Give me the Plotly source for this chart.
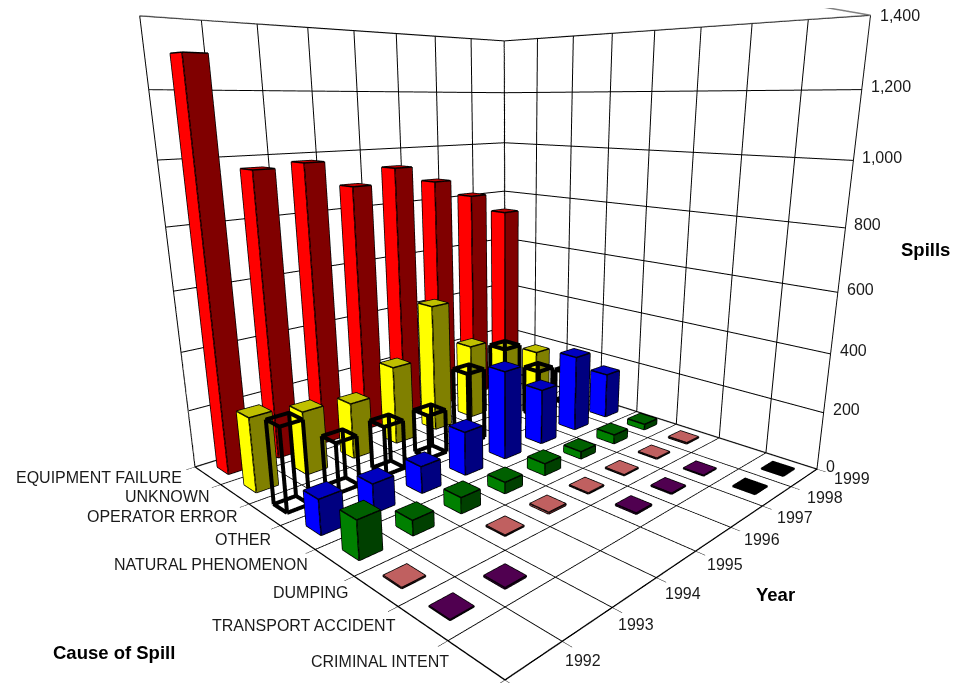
import plotly.graph_objects as go

years = [1992, 1993, 1994, 1995, 1996, 1997, 1998, 1999]
causes = ["CRIMINAL INTENT", "TRANSPORT ACCIDENT", "DUMPING", "NATURAL PHENOMENON",
          "OTHER", "OPERATOR ERROR", "UNKNOWN", "EQUIPMENT FAILURE"]

criminal_intent = [0, 0, 0, 0, 0, 0, 2, 2]
transport_accident = [2, 4, 0, 0, 4, 3, 2, 0]
dumping = [3, 0, 3, 5, 3, 3, 3, 4]
natural_phenomenon = [120, 48, 52, 38, 41, 26, 33, 21]
other = [112, 95, 90, 150, 312, 200, 280, 170]
operator_error = [275, 168, 168, 155, 260, 310, 182, 130]
unknown = [250, 218, 197, 282, 468, 280, 225, 178]
equipment_failure = [1300, 965, 977, 888, 940, 880, 813, 733]
spill_ticks = [0, 200, 400, 600, 800, 1000, 1200, 1400]

rows = [criminal_intent, transport_accident, dumping, natural_phenomenon,
        other, operator_error, unknown, equipment_failure]
colours = [("#000000", "#000000", "#000000"),
           ("#500050", "#300030", "#500050"),
           ("#C06060", "#803030", "#C06060"),
           ("#008000", "#004000", "#006000"),
           ("#0000FF", "#000080", "#0000C0"),
           None,
           ("#FFFF00", "#808000", "#C0C000"),
           ("#FF0000", "#800000", "#C00000")]
HALF = 0.21
LO, HI = -0.5, 7.5
ZMAX = spill_ticks[-1]
PAGE_MARGIN = 8  # the page body keeps its default margin
W, H = 959 - PAGE_MARGIN, 683 - PAGE_MARGIN

fig = go.Figure()
for i, (vals, col) in enumerate(zip(rows, colours)):
    X, Y, Z, I, J, K, FC = [], [], [], [], [], [], []
    lx, ly, lz = [], [], []
    for j, v in enumerate(vals):
        if not v:
            continue
        x0, x1, y0, y1 = j - HALF, j + HALF, i - HALF, i + HALF
        n = len(X)
        X += [x0, x1, x1, x0, x0, x1, x1, x0]
        Y += [y0, y0, y1, y1, y0, y0, y1, y1]
        Z += [0, 0, 0, 0, v, v, v, v]
        if col:
            left, right, top = col
            tris = [((0, 3, 7), left), ((0, 7, 4), left),
                    ((0, 1, 5), right), ((0, 5, 4), right),
                    ((4, 5, 6), top), ((4, 6, 7), top),
                    ((1, 2, 6), right), ((1, 6, 5), right),
                    ((2, 3, 7), left), ((2, 7, 6), left),
                    ((0, 1, 2), right), ((0, 2, 3), right)]
            for (a, b, c), fc in tris:
                I.append(n + a); J.append(n + b); K.append(n + c); FC.append(fc)
        for path in ([0, 1, 2, 3, 0], [4, 5, 6, 7, 4], [0, 4], [1, 5], [2, 6], [3, 7]):
            lx += [X[n + p] for p in path] + [None]
            ly += [Y[n + p] for p in path] + [None]
            lz += [Z[n + p] for p in path] + [None]
    if col:
        fig.add_trace(go.Mesh3d(x=X, y=Y, z=Z, i=I, j=J, k=K, facecolor=FC, flatshading=True,
                                lighting=dict(ambient=1, diffuse=0, specular=0, fresnel=0, roughness=1),
                                hoverinfo="skip", showscale=False, name=causes[i]))
    fig.add_trace(go.Scatter3d(x=lx, y=ly, z=lz, mode="lines",
                               line=dict(color="black", width=3 if col else 8),
                               hoverinfo="skip", showlegend=False, name=causes[i]))

# wall borders (grey) and the value axis on the right-hand corner (dark, with tick marks)
fig.add_trace(go.Scatter3d(
    x=[LO, LO, None, LO, HI, HI, None, HI, HI, LO, None, HI, HI, None, LO, HI, None],
    y=[HI, HI, None, HI, HI, HI, None, HI, LO, LO, None, HI, LO, None, HI, HI, None],
    z=[0, ZMAX, None, ZMAX, ZMAX, 0, None, ZMAX, ZMAX, ZMAX, None, 0, 0, None, 0, 0, None],
    mode="lines", line=dict(color="#808080", width=3), hoverinfo="skip", showlegend=False))
tx, ty, tz = [HI, HI, None], [LO, LO, None], [0, ZMAX, None]
for t in spill_ticks:
    tx += [HI, HI + 0.13, None]
    ty += [LO, LO - 0.13, None]
    tz += [t, t, None]
fig.add_trace(go.Scatter3d(x=tx, y=ty, z=tz, mode="lines", line=dict(color="#303030", width=2),
                           hoverinfo="skip", showlegend=False))

edges = [k - 0.5 for k in range(len(years) + 1)]
ax_x = dict(range=[LO, HI], autorange=False, tickmode="array", tickvals=edges, showticklabels=False,
            ticks="outside", ticklen=8, tickcolor="black", showgrid=True, gridcolor="black", gridwidth=2,
            showline=True, linecolor="black", linewidth=3, zeroline=False, showbackground=False,
            showspikes=False, title=dict(text=""))
label_font = dict(family="Liberation Sans, Arial", size=16, color="#1a1a1a")
annots = []
for j, y in enumerate(years):
    annots.append(dict(x=j, y=LO, z=0, text=str(y), showarrow=False, xanchor="left", yanchor="middle",
                       xshift=28, yshift=-1, font=label_font))
for i, c in enumerate(causes):
    annots.append(dict(x=LO, y=i, z=0, text=c, showarrow=False, xanchor="right", yanchor="middle",
                       xshift=-24, yshift=-2, font=label_font))
for t in spill_ticks:
    annots.append(dict(x=HI, y=LO, z=t, text=f"{t:,}", showarrow=False, xanchor="left", yanchor="middle",
                       xshift=7, yshift=0 if t == ZMAX else 3, font=label_font))

fig.update_layout(
    width=W, height=H, margin=dict(l=0, r=0, t=0, b=0), paper_bgcolor="white", showlegend=False,
    scene=dict(
        domain=dict(x=[57 / W, 1], y=[0, 1]),
        aspectmode="manual", aspectratio=dict(x=1, y=1.016, z=0.9655),
        camera=dict(eye=dict(x=-1.1960, y=-1.2184, z=0.3249),
                    center=dict(x=-0.0198, y=-0.0422, z=-0.1762),
                    up=dict(x=0, y=0, z=1),
                    projection=dict(type="perspective")),
        xaxis=ax_x, yaxis=ax_x,
        zaxis=dict(range=[0, ZMAX], autorange=False, tickmode="array", tickvals=spill_ticks,
                   showticklabels=False, ticks="", showgrid=True, gridcolor="black", gridwidth=2,
                   showline=False, zeroline=False, showbackground=False,
                   showspikes=False, title=dict(text="")),
        annotations=annots,
    ),
)
title_font = dict(family="Liberation Sans, Arial", size=18.5, color="black")
for text, px, py in [("Spills", 925, 249), ("Year", 775, 594), ("Cause of Spill", 114, 652)]:
    fig.add_annotation(x=(px - PAGE_MARGIN) / W, y=1 - (py - PAGE_MARGIN) / H, xref="paper", yref="paper",
                       text=f"<b>{text}</b>", showarrow=False, xanchor="center", yanchor="middle",
                       font=title_font)
fig.write_html("out.html")
